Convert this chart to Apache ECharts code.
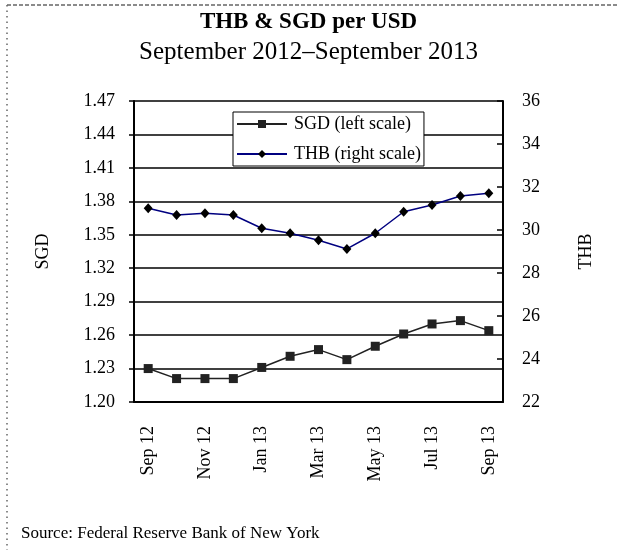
<!DOCTYPE html>
<html>
<head>
<meta charset="utf-8">
<script src="https://cdn.jsdelivr.net/npm/echarts@6/dist/echarts.min.js"></script>
<style>
  html, body { margin: 0; padding: 0; background: #fff; }
  #chart { width: 617px; height: 550px; }
</style>
</head>
<body>
<div id="chart"></div>
<script>
// Monthly average exchange rates, Sep 2012 – Sep 2013
const months = ['Sep 12', 'Oct 12', 'Nov 12', 'Dec 12', 'Jan 13', 'Feb 13', 'Mar 13',
                'Apr 13', 'May 13', 'Jun 13', 'Jul 13', 'Aug 13', 'Sep 13'];
const sgdPerUsd = [1.230, 1.221, 1.221, 1.221, 1.231, 1.241, 1.247,
                   1.238, 1.250, 1.261, 1.270, 1.273, 1.264];
const thbPerUsd = [31.01, 30.70, 30.78, 30.70, 30.08, 29.85, 29.52,
                   29.12, 29.85, 30.85, 31.16, 31.58, 31.71];

const SERIF = '"Liberation Serif", "Times New Roman", serif';
const NAVY = '#000080';

const chart = echarts.init(document.getElementById('chart'), null, { renderer: 'canvas' });

chart.setOption({
  backgroundColor: '#fff',
  animation: false,
  textStyle: { fontFamily: SERIF, color: '#000' },
  title: [
    {
      text: 'THB & SGD per USD',
      left: 'center', top: 6,
      textStyle: { fontFamily: SERIF, fontSize: 23, fontWeight: 'bold', color: '#000' }
    },
    {
      text: 'September 2012–September 2013',
      left: 'center', top: 35,
      textStyle: { fontFamily: SERIF, fontSize: 25, fontWeight: 'normal', color: '#000' }
    },
    {
      text: 'Source: Federal Reserve Bank of New York',
      left: 16, top: 520,
      textStyle: { fontFamily: SERIF, fontSize: 17, fontWeight: 'normal', color: '#000' }
    }
  ],
  legend: {
    orient: 'vertical',
    left: 233, top: 112,
    width: 191,
    padding: [3, 3, 3, 3],
    itemGap: 12,
    itemWidth: 50, itemHeight: 10,
    borderColor: '#000', borderWidth: 1,
    backgroundColor: '#fff',
    textStyle: { fontFamily: SERIF, fontSize: 18, color: '#000', padding: [0, 0, 0, 2] },
    data: ['SGD (left scale)', 'THB (right scale)']
  },
  grid: { left: 134, right: 114, top: 101, bottom: 148, containLabel: false },
  xAxis: {
    type: 'category',
    data: months,
    boundaryGap: true,
    axisLine: { lineStyle: { color: '#000', width: 2 } },
    axisTick: { interval: 1, length: 5, lineStyle: { color: '#000', width: 1.5 } },
    axisLabel: {
      interval: 1, rotate: 90, margin: 24,
      fontFamily: SERIF, fontSize: 18, color: '#000'
    },
    splitLine: { show: false }
  },
  yAxis: [
    {
      type: 'value',
      min: 1.20, max: 1.47, interval: 0.03,
      name: 'SGD', nameLocation: 'middle', nameGap: 82,
      nameTextStyle: { fontFamily: SERIF, fontSize: 18, color: '#000' },
      axisLine: { show: true, lineStyle: { color: '#000', width: 2 } },
      axisTick: { show: true, length: 5, lineStyle: { color: '#000', width: 1.5 } },
      axisLabel: {
        margin: 19, fontFamily: SERIF, fontSize: 18, color: '#000',
        formatter: v => v.toFixed(2)
      },
      splitLine: { show: true, lineStyle: { color: '#000', width: 1.5 } }
    },
    {
      type: 'value',
      min: 22, max: 36, interval: 2,
      name: 'THB', nameLocation: 'middle', nameGap: 74,
      nameTextStyle: { fontFamily: SERIF, fontSize: 18, color: '#000' },
      axisLine: { show: true, lineStyle: { color: '#000', width: 2 } },
      axisTick: { show: true, inside: true, length: 6, lineStyle: { color: '#000', width: 1.5 } },
      axisLabel: { margin: 19, fontFamily: SERIF, fontSize: 18, color: '#000' },
      splitLine: { show: false }
    }
  ],
  series: [
    {
      name: 'SGD (left scale)',
      type: 'line',
      yAxisIndex: 0,
      data: sgdPerUsd,
      symbol: 'rect', symbolSize: 9,
      lineStyle: { color: '#222', width: 1.5 },
      itemStyle: { color: '#222', borderWidth: 0 },
      z: 3
    },
    {
      name: 'THB (right scale)',
      type: 'line',
      yAxisIndex: 1,
      data: thbPerUsd,
      symbol: 'diamond', symbolSize: [9, 10],
      lineStyle: { color: NAVY, width: 1.5 },
      itemStyle: { color: '#000', borderWidth: 0 },
      z: 4
    }
  ],
  graphic: [
    {
      type: 'line',
      shape: { x1: 7, y1: 5, x2: 617, y2: 5 },
      style: { stroke: '#666', lineWidth: 1.5, lineDash: [4, 2] },
      silent: true
    },
    {
      type: 'line',
      shape: { x1: 7, y1: 5, x2: 7, y2: 550 },
      style: { stroke: '#666', lineWidth: 1.5, lineDash: [1.5, 4] },
      silent: true
    }
  ]
});
</script>
</body>
</html>
